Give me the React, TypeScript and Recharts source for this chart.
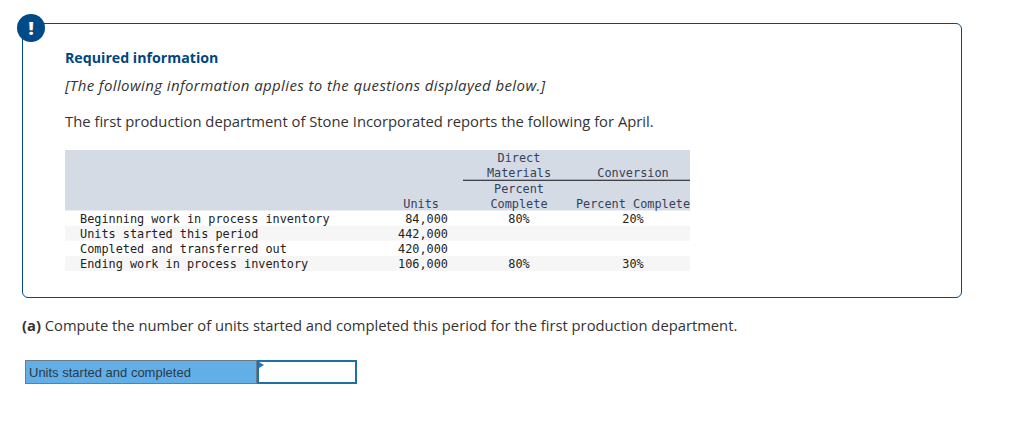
import React from 'react';
import { ComposedChart, Scatter, XAxis, YAxis, ReferenceArea } from 'recharts';

const headerRows = ['h1', 'h2', 'h3', 'h4'];
const rowLabels = [
  'Beginning work in process inventory',
  'Units started this period',
  'Completed and transferred out',
  'Ending work in process inventory',
];
const unitsValues = ['84,000', '442,000', '420,000', '106,000'];
const materialsPercent = ['80%', '', '', '80%'];
const conversionPercent = ['20%', '', '', '30%'];
const unitsHeader = ['', '', '', 'Units'];
const materialsHeader = ['Direct', 'Materials', 'Percent', 'Complete'];
const conversionHeader = ['', 'Conversion', '', 'Percent Complete'];

// table column anchors, in px from the left of the shaded block
const LABEL_X = 15;
const UNITS_HEAD_X = 374;
const UNITS_X = 383;
const MATERIALS_X = 454;
const CONVERSION_X = 568;
const RULE_START = 398;
const TABLE_W = 625;

const NAVY = '#004b87';
const MONO = '"DejaVu Sans Mono", monospace';
const BODY = '"Open Sans", sans-serif';
const HEAD = '#33415c';
const INK = '#222222';

type Cell = { x: number; row: string; text: string; anchor: string; color: string };

const allRows = [...headerRows, ...rowLabels];

const cells: Cell[] = [
  ...headerRows.flatMap((row, i) => [
    { x: UNITS_HEAD_X, row, text: unitsHeader[i], anchor: 'end', color: HEAD },
    { x: MATERIALS_X, row, text: materialsHeader[i], anchor: 'middle', color: HEAD },
    { x: CONVERSION_X, row, text: conversionHeader[i], anchor: 'middle', color: HEAD },
  ]),
  ...rowLabels.flatMap((row, i) => [
    { x: LABEL_X, row, text: row, anchor: 'start', color: INK },
    { x: UNITS_X, row, text: unitsValues[i], anchor: 'end', color: INK },
    { x: MATERIALS_X, row, text: materialsPercent[i], anchor: 'middle', color: INK },
    { x: CONVERSION_X, row, text: conversionPercent[i], anchor: 'middle', color: INK },
  ]),
].filter((c) => c.text !== '');

function CellText(props: any) {
  const { cx, cy, payload } = props;
  const dy = payload.row === 'h1' || payload.row === 'h2' ? 4 : 5;
  return (
    <text x={cx} y={cy + dy} textAnchor={payload.anchor} fontFamily={MONO} fontSize={11.85} fill={payload.color}>
      {payload.text}
    </text>
  );
}

function RuleShape(props: any) {
  const y = props.y + props.height;
  return <line x1={props.x} x2={props.x + props.width} y1={y} y2={y} stroke="#111111" strokeWidth={1} />;
}

function TableChart() {
  return (
    <ComposedChart width={TABLE_W} height={121} margin={{ top: 0, right: 0, bottom: 0, left: 0 }} data={[]}>
      <XAxis type="number" dataKey="x" domain={[0, TABLE_W]} hide />
      <YAxis type="category" dataKey="row" scale="band" reversed hide domain={allRows} allowDuplicatedCategory={false} />
      <ReferenceArea y1="h1" y2="h4" x1={0} x2={TABLE_W} fill="#d5dbe5" fillOpacity={1} stroke="none" />
      <ReferenceArea y1={rowLabels[1]} y2={rowLabels[1]} x1={0} x2={TABLE_W} fill="#f6f6f6" fillOpacity={1} stroke="none" />
      <ReferenceArea y1={rowLabels[3]} y2={rowLabels[3]} x1={0} x2={TABLE_W} fill="#f6f6f6" fillOpacity={1} stroke="none" />
      <ReferenceArea y1="h2" y2="h2" x1={RULE_START} x2={TABLE_W} shape={RuleShape} />
      <Scatter data={cells} shape={CellText} isAnimationActive={false} />
    </ComposedChart>
  );
}

const abs = (left: number, top: number, extra: React.CSSProperties = {}): React.CSSProperties => ({
  position: 'absolute',
  left,
  top,
  whiteSpace: 'nowrap',
  fontFamily: BODY,
  ...extra,
});

export default function App() {
  return (
    <div style={{ position: 'absolute', left: 0, top: 0, width: 1016, height: 421, background: '#fff', overflow: 'hidden' }}>
      <div style={abs(22, 23, { width: 938, height: 273, border: `1px solid ${NAVY}`, borderRadius: 6 })} />
      <div
        style={abs(17, 14, {
          width: 28,
          height: 28,
          borderRadius: 14,
          background: NAVY,
          color: '#fff',
          fontSize: 18,
          fontWeight: 800,
          lineHeight: '28px',
          textAlign: 'center',
        })}
      >
        !
      </div>
      <div style={abs(65, 48, { fontSize: 14.2, fontWeight: 700, color: '#00467f', lineHeight: '20px' })}>Required information</div>
      <div style={abs(65, 75, { fontSize: 15, letterSpacing: 0.39, fontStyle: 'italic', color: '#333', lineHeight: '20px' })}>
        [The following information applies to the questions displayed below.]
      </div>
      <div style={abs(65, 111, { fontSize: 14.8, color: '#333', lineHeight: '20px' })}>
        The first production department of Stone Incorporated reports the following for April.
      </div>
      <div style={{ position: 'absolute', left: 65, top: 150 }}>
        <TableChart />
      </div>
      <div style={abs(22, 315, { fontSize: 14.76, color: '#333', lineHeight: '20px' })}>
        <b>(a)</b> Compute the number of units started and completed this period for the first production department.
      </div>
      <div
        style={abs(25, 360, {
          height: 22,
          width: 227,
          background: '#62aee6',
          border: '1px solid #6f7b86',
          fontFamily: '"Liberation Sans", sans-serif',
          fontSize: 13,
          lineHeight: '23px',
          color: '#2b3a46',
          paddingLeft: 3,
        })}
      >
        Units started and completed
      </div>
      <div style={abs(257, 360, { width: 96, height: 20, background: '#fff', border: '2px solid #1f6fa8' })} />
      <div
        style={abs(259, 362, {
          width: 0,
          height: 0,
          borderTop: '3px solid transparent',
          borderBottom: '3px solid transparent',
          borderLeft: '5px solid #1f78c1',
        })}
      />
    </div>
  );
}
